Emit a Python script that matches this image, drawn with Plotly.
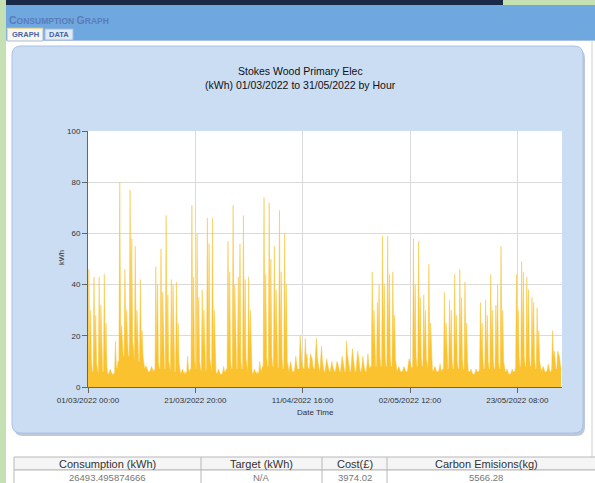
import pandas as pd
import plotly.graph_objects as go

# ---------------- data (kWh, 4-hour blocks: 00,04,08,12,16,20 h) ----------------
march_kwh = [
    6, 46, 12, 30, 10, 6,   6, 43, 14, 28, 9, 6,    5, 43, 12, 32, 10, 6,   6, 44, 13, 25, 8, 5,
    5, 6, 7, 6, 5, 5,       5, 6, 18, 8, 7, 10,
    10, 80, 20, 24, 18, 12, 12, 46, 20, 30, 18, 12, 12, 77, 22, 58, 18, 12, 10, 55, 18, 30, 16, 10,
    10, 42, 16, 22, 12, 8,
    7, 8, 8, 7, 6, 6,       6, 7, 8, 7, 6, 7,
    6, 47, 12, 40, 10, 7,   7, 54, 14, 37, 11, 7,   7, 67, 14, 36, 10, 7,   6, 42, 13, 40, 10, 6,
    6, 41, 12, 25, 9, 6,
    5, 6, 7, 6, 5, 6,       5, 6, 12, 7, 6, 7,
    7, 71, 14, 43, 11, 7,   7, 60, 15, 35, 10, 7,   6, 38, 14, 30, 10, 6,   7, 66, 15, 56, 11, 7,
    6, 66, 13, 30, 9, 6,
    5, 6, 7, 6, 5, 5,       5, 6, 8, 6, 6, 7,
    7, 57, 14, 45, 10, 7,   7, 71, 15, 40, 11, 7,   7, 43, 14, 56, 10, 7,   7, 67, 15, 42, 11, 7,
]
april_kwh = [
    6, 43, 13, 30, 9, 6,
    5, 6, 7, 6, 5, 6,       5, 6, 10, 7, 6, 8,
    8, 74, 16, 44, 12, 8,   8, 72, 16, 50, 12, 8,   8, 55, 15, 38, 11, 7,   8, 69, 15, 45, 11, 7,
    7, 60, 14, 40, 10, 7,
    6, 8, 10, 8, 6, 6,      6, 8, 12, 9, 7, 7,
    7, 20, 12, 10, 8, 7,    7, 19, 11, 13, 8, 7,    7, 13, 12, 11, 8, 7,    7, 14, 19, 12, 8, 7,
    6, 12, 16, 10, 7, 6,
    6, 9, 11, 9, 7, 6,      6, 8, 10, 8, 7, 6,
    6, 8, 10, 9, 7, 6,      6, 10, 12, 10, 7, 6,    6, 18, 13, 11, 8, 6,    6, 12, 15, 11, 8, 6,
    6, 11, 14, 12, 8, 6,
    6, 8, 12, 9, 7, 6,      6, 9, 13, 9, 7, 8,
    8, 45, 16, 30, 12, 8,   8, 33, 18, 40, 12, 8,   8, 59, 18, 40, 12, 8,   8, 59, 18, 44, 12, 8,
    8, 45, 16, 28, 11, 7,
    6, 7, 8, 7, 6, 6,
]
may_kwh = [
    6, 7, 8, 7, 6, 6,
    6, 9, 11, 10, 8, 7,     8, 58, 16, 40, 12, 8,   8, 57, 16, 35, 12, 8,   8, 36, 15, 30, 11, 8,
    7, 48, 14, 25, 10, 7,
    6, 7, 8, 7, 6, 6,       6, 7, 9, 7, 6, 7,
    7, 37, 14, 25, 10, 7,   7, 34, 14, 30, 10, 7,   7, 44, 15, 28, 10, 7,   7, 46, 15, 35, 11, 7,
    7, 41, 14, 25, 10, 6,
    6, 6, 7, 6, 5, 5,       5, 6, 7, 6, 6, 6,
    7, 33, 14, 25, 10, 7,   7, 34, 14, 28, 10, 7,   7, 44, 15, 30, 10, 7,   7, 32, 14, 40, 10, 7,
    7, 55, 14, 30, 10, 7,
    6, 6, 7, 6, 5, 5,       5, 6, 7, 6, 6, 6,
    8, 44, 16, 30, 12, 8,   8, 49, 17, 45, 12, 8,   8, 43, 16, 38, 12, 8,   8, 35, 15, 33, 11, 7,
    7, 31, 14, 22, 10, 7,
    6, 7, 8, 7, 6, 6,       6, 7, 9, 7, 6, 6,
    7, 22, 12, 14, 9, 7,    7, 14, 13, 12, 9, 7,
]
tick_times = ["2022-03-01 00:00", "2022-03-21 20:00", "2022-04-11 16:00",
              "2022-05-02 12:00", "2022-05-23 08:00"]
tick_labels = ["01/03/2022 00:00", "21/03/2022 20:00", "11/04/2022 16:00",
               "02/05/2022 12:00", "23/05/2022 08:00"]
y_ticks = [0, 20, 40, 60, 80, 100]
table_headers = ["Consumption (kWh)", "Target (kWh)", "Cost(£)", "Carbon Emisions(kg)"]
table_values = ["26493.495874666", "N/A", "3974.02", "5566.28"]

kwh = march_kwh + april_kwh + may_kwh
times = pd.date_range("2022-03-01", periods=len(kwh), freq="4h")

# ---------------- layout geometry (pixels) ----------------
W, H = 595, 483
L, R, T, B = 88, 562, 131, 387
PW, PH = R - L, B - T


def X(px):
    return (px - L) / PW


def Y(py):
    return (B - py) / PH


FONT = "Liberation Sans, Arial, sans-serif"
shapes = []
annotations = []


def rect(x0, y0, x1, y1, fill, line=None, lw=0):
    shapes.append(dict(type="rect", xref="paper", yref="paper", layer="below",
                       x0=X(x0), x1=X(x1), y0=Y(y1), y1=Y(y0),
                       fillcolor=fill, line=dict(color=line or fill, width=lw)))


def vline(x, y0, y1, color, lw=1):
    shapes.append(dict(type="line", xref="paper", yref="paper", layer="below",
                       x0=X(x), x1=X(x), y0=Y(y0), y1=Y(y1), line=dict(color=color, width=lw)))


def hline(y, x0, x1, color, lw=1):
    shapes.append(dict(type="line", xref="paper", yref="paper", layer="below",
                       x0=X(x0), x1=X(x1), y0=Y(y), y1=Y(y), line=dict(color=color, width=lw)))


def rrect(x0, y0, x1, y1, r, fill, line, lw=1):
    p = (f"M{X(x0+r)},{Y(y0)} L{X(x1-r)},{Y(y0)} Q{X(x1)},{Y(y0)} {X(x1)},{Y(y0+r)} "
         f"L{X(x1)},{Y(y1-r)} Q{X(x1)},{Y(y1)} {X(x1-r)},{Y(y1)} "
         f"L{X(x0+r)},{Y(y1)} Q{X(x0)},{Y(y1)} {X(x0)},{Y(y1-r)} "
         f"L{X(x0)},{Y(y0+r)} Q{X(x0)},{Y(y0)} {X(x0+r)},{Y(y0)} Z")
    shapes.append(dict(type="path", xref="paper", yref="paper", layer="below", path=p,
                       fillcolor=fill, line=dict(color=line, width=lw)))


def ann(text, px, py, size, color="#222", xanchor="center", yanchor="middle", angle=0):
    annotations.append(dict(text=text, xref="paper", yref="paper", x=X(px), y=Y(py),
                            xanchor=xanchor, yanchor=yanchor, showarrow=False, textangle=angle,
                            font=dict(family=FONT, size=size, color=color)))


# page chrome
rect(0, 0, 6, H, "#c5e0b3")
rect(6, 0, 503, 5, "#1b2a48")
rect(503, 0, W, 5, "#c5e0b3")
rect(6, 5, W, 40, "#6ea8de")
rect(6, 40, W, H, "#ffffff")
hline(40.5, 6, W, "#a9c3e3")
vline(592, 40, H, "#cfcfcf")
# tabs
rect(7, 28, 43, 41, "#f7f7f0", "#a8bcd8", 1)
hline(28.5, 7, 43, "#e8d9a0")
rect(45, 29, 73, 40, "#e0eaf7", "#a8bcd8", 1)
ann("<b>GRAPH</b>", 25, 34.5, 7.5, "#4562a8")
ann("<b>DATA</b>", 59, 34.5, 7.5, "#4562a8")
ann("<b><span style='font-size:10.5px'>C</span>ONSUMPTION <span style='font-size:10.5px'>G</span>RAPH</b>",
    7, 19.5, 8.5, "#5a7cbc", xanchor="left")

# chart container (shadow + rounded panel)
rrect(14, 49, 585, 436, 9, "#bfc8d4", "#bfc8d4", 0)
rrect(12, 46, 583, 433, 9, "#cbddf3", "#a8c3e5", 1)
rect(L, T, R, B, "#ffffff")

# titles
ann("Stokes Wood Primary Elec", 300, 71, 10.5, "#111")
ann("(kWh) 01/03/2022 to 31/05/2022 by Hour", 300, 85, 10.5, "#111")
ann("kWh", 61, 258, 7.5, "#333", angle=-90)
ann("Date Time", 315, 412, 8, "#333")

# table
tx = [14, 201, 322, 387, 600]
rect(14, 457, 600, 470, "#f5f5f5", "#b8b8b8", 1)
rect(14, 470, 600, 492, "#ffffff", "#b8b8b8", 1)
for xx in tx[1:-1]:
    vline(xx, 457, H, "#b8b8b8")
for i in range(4):
    cx = (tx[i] + tx[i + 1]) / 2 if i < 3 else 486
    ann(table_headers[i], cx, 464, 11, "#333")
    ann(table_values[i], cx, 477.5, 9.5, "#777")

fig = go.Figure()
fig.add_trace(go.Scatter(x=times, y=kwh, mode="lines", fill="tozeroy",
                         line=dict(color="#f8c53a", width=0.5),
                         fillcolor="#f9c22e", hoverinfo="x+y"))

fig.update_layout(
    width=W, height=H,
    margin=dict(l=L, r=W - R, t=T, b=H - B, pad=0),
    paper_bgcolor="#ffffff", plot_bgcolor="rgba(0,0,0,0)",
    showlegend=False,
    font=dict(family=FONT, size=8, color="#333"),
    shapes=shapes, annotations=annotations,
    xaxis=dict(type="date", range=["2022-03-01 00:00", "2022-06-01 00:00"],
               tickmode="array", tickvals=tick_times, ticktext=tick_labels,
               ticks="outside", ticklen=5, tickcolor="#666", tickfont=dict(size=8, color="#333"),
               showgrid=True, gridcolor="#dadada", gridwidth=1,
               showline=True, linecolor="#666", linewidth=1, zeroline=False, fixedrange=True),
    yaxis=dict(range=[0, 100], tickmode="array", tickvals=y_ticks,
               ticks="outside", ticklen=5, tickcolor="#666", tickfont=dict(size=8, color="#333"),
               showgrid=True, gridcolor="#dadada", gridwidth=1,
               showline=True, linecolor="#666", linewidth=1, zeroline=False, fixedrange=True),
)

fig.write_html("out.html", config={"displayModeBar": False},
               post_script="document.body.style.margin='0px';document.body.style.overflow='hidden';")
